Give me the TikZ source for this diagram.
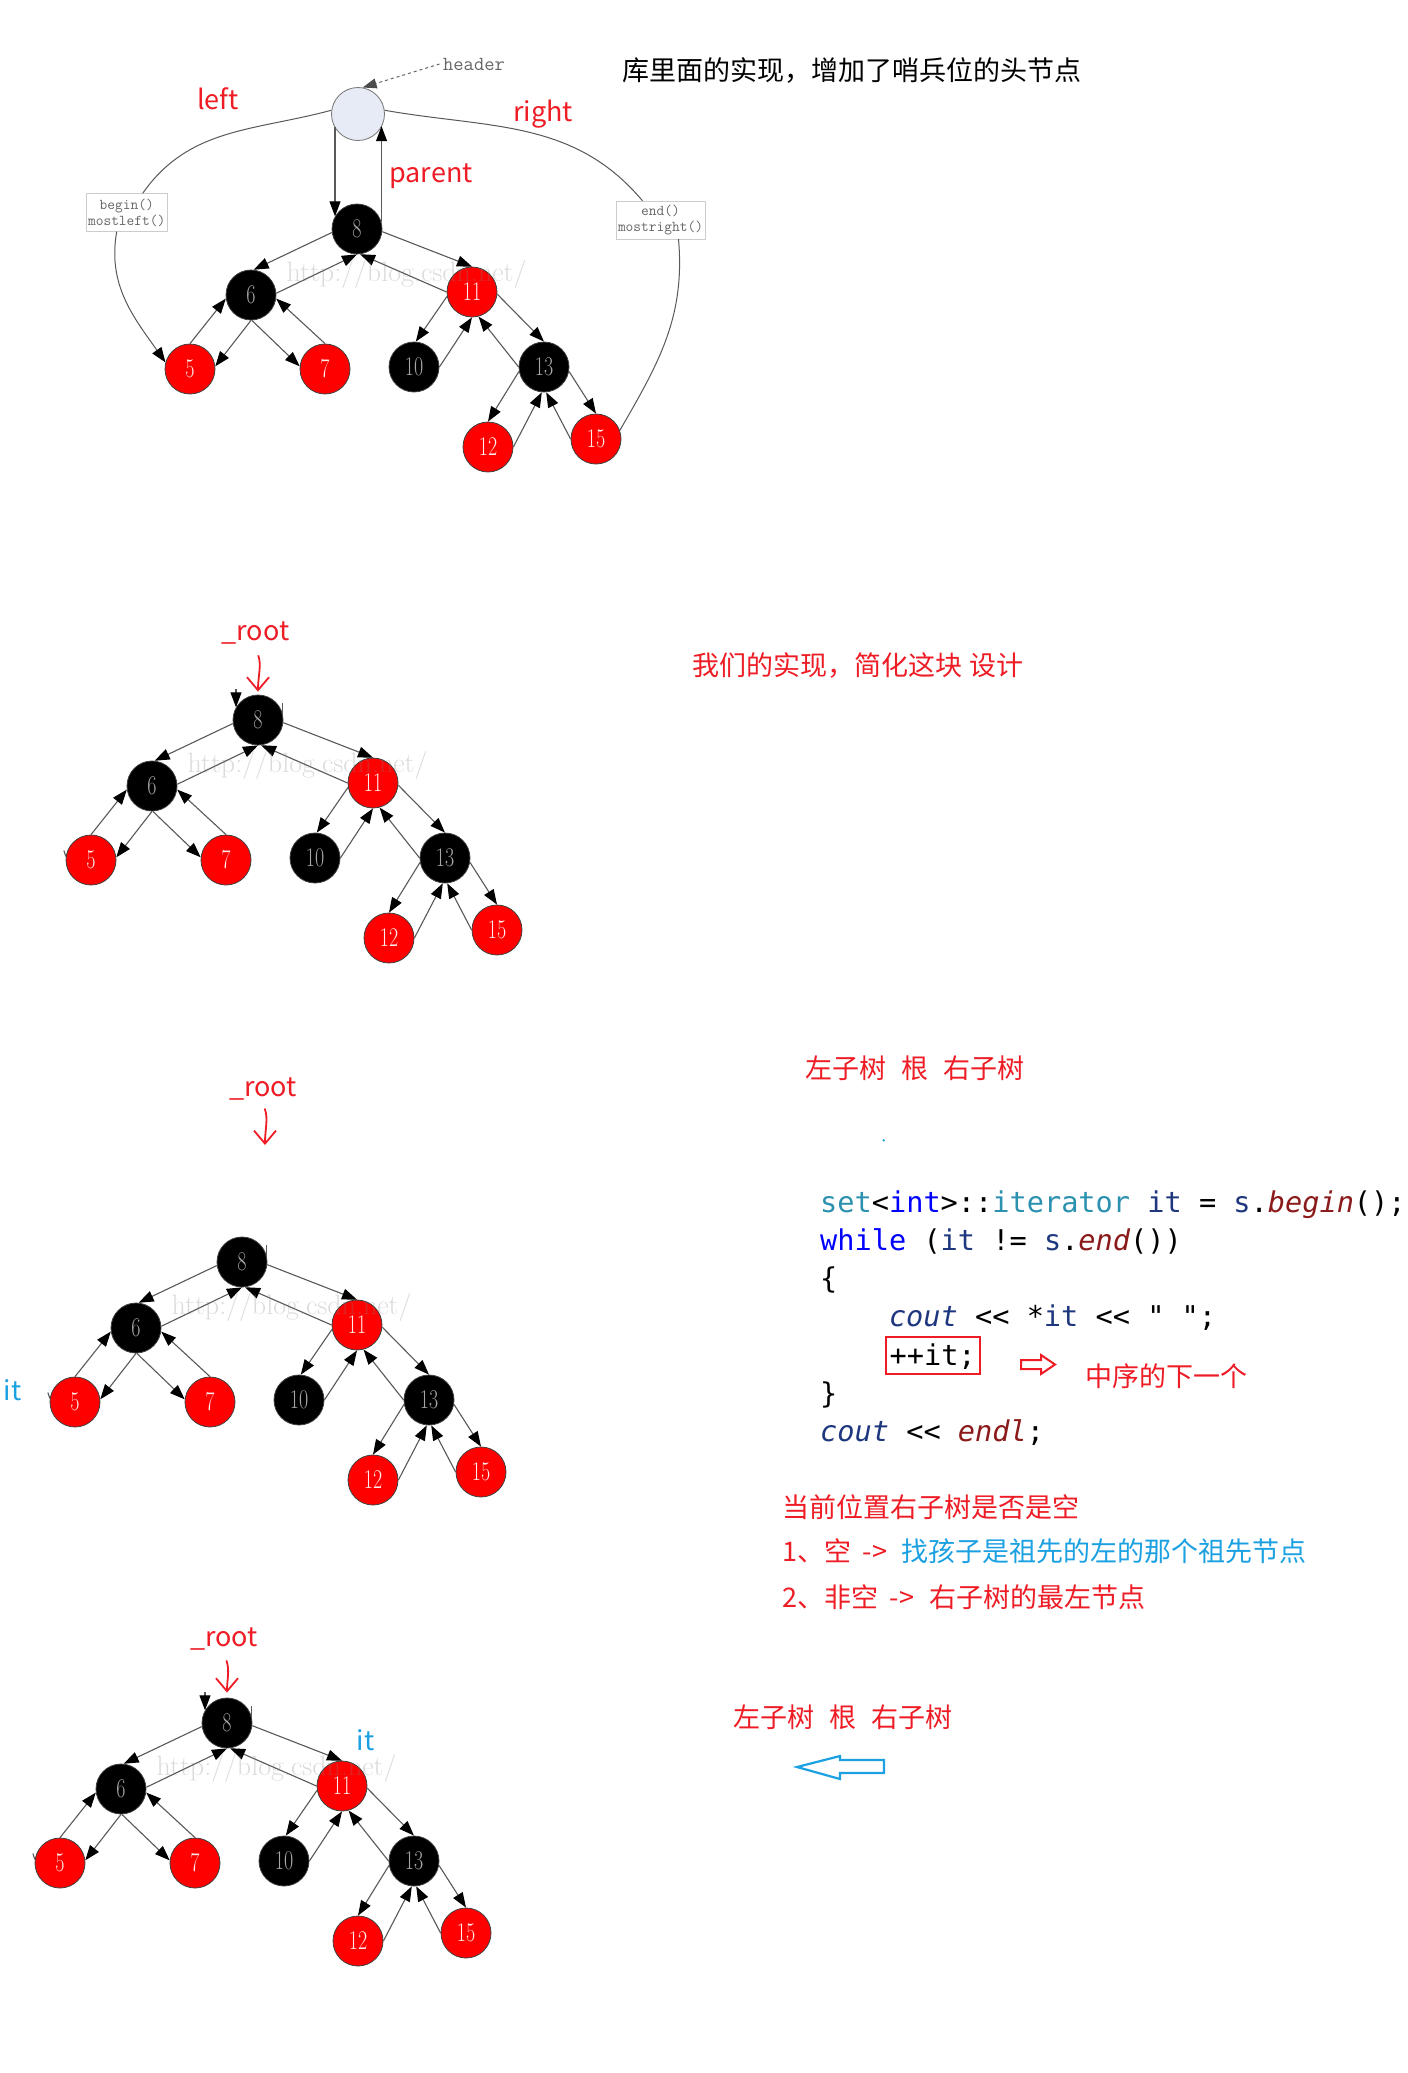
\documentclass[tikz,border=0pt]{standalone}
\usepackage{fontspec}
\newfontfamily\cjk{Noto Sans CJK SC}
\newfontfamily\codefont{DejaVu Sans Mono}[ItalicFont={DejaVu Sans Mono Oblique}]
\usetikzlibrary{arrows.meta,positioning,calc}

\definecolor{annred}{HTML}{EE1C25}
\definecolor{annblue}{HTML}{1BA1E2}
\definecolor{ctype}{HTML}{2B91AF}
\definecolor{ckw}{HTML}{0000FF}
\definecolor{cvar}{HTML}{1F377F}
\definecolor{cfun}{HTML}{8B1A1A}
\definecolor{hdrfill}{HTML}{E6EBF5}

\newcommand{\nlabel}[1]{\scalebox{0.74}[1]{#1}}
% one red-black tree, drawn at the origin of the current scope
\newcommand{\drawrbtree}{%
  \foreach \k/\x/\y in {8/0/0,6/-106/66,10/57/138,13/187/138}
    \node[bnode] (n\k) at (\x,\y) {\nlabel{\k}};
  \foreach \k/\x/\y in {11/115/63,5/-167/140,7/-32/140,12/131/218,15/239/210}
    \node[rnode] (n\k) at (\x,\y) {\nlabel{\k}};
  \foreach \a/\p/\b/\q in {8/188/6/84,6/4/8/270,8/354/11/90,11/180/8/277,
      6/270/5/6,5/90/6/188,6/272/7/174,7/90/6/352,
      11/190/10/86,10/0/11/270,11/355/13/90,13/180/11/285,
      13/190/12/90,12/0/13/265,13/350/15/90,15/180/13/275}
    \draw[edge] (n\a.\p) -- (n\b.\q);
  \node[wmark] (wm) at (49.5,45) {http://blog.csdn.net/};
}

\begin{document}
\begin{tikzpicture}[
    x=1pt, y=-1pt,
    bnode/.style={circle, draw=black!75, line width=0.8pt, fill=black, text=gray!70,
      minimum size=50pt, inner sep=0pt, font=\fontsize{27}{30}\selectfont},
    rnode/.style={bnode, fill=red, text=red!8},
    edge/.style={draw=black!65, line width=1.1pt, -{Triangle[length=15pt,width=11pt,color=black]}},
    curve/.style={draw=black!65, line width=1pt},
    stub/.style={draw=black!65, line width=1.1pt},
    hdrnode/.style={circle, draw=black!55, line width=0.8pt, fill=hdrfill, minimum size=53pt, inner sep=0pt},
    sbox/.style={draw=black!20, fill=white, align=center, inner sep=1pt,
      font=\ttfamily\fontsize{15}{16}\selectfont, text=black!60, minimum width=81pt, minimum height=38pt},
    wmark/.style={text=gray, opacity=0.28, font=\fontsize{28}{30}\selectfont},
    hint/.style={text=annred, font=\cjk\fontsize{27}{30}\selectfont},
    itlbl/.style={text=annblue, font=\cjk\fontsize{27}{30}\selectfont},
    hand/.style={draw=annred, line width=1.8pt, -{Straight Barb[length=13pt,width=22pt]}},
    code/.style={anchor=base west, inner sep=0pt, font=\codefont\fontsize{28.6}{34}\selectfont}
]
\fill[white] (0,0) rectangle (1408,2073);
\useasboundingbox (0,0) rectangle (1408,2073);

% library version, with header node
\begin{scope}[shift={(357,229)}, name prefix=ta-]
  \drawrbtree
\end{scope}
\node[hdrnode] (hdr) at (358,114) {};
\node[text=black!60, font=\ttfamily\fontsize{20}{22}\selectfont] (hdrlbl) at (474,64) {header};
\draw[dashed, draw=black!60, line width=1pt, -{Triangle[length=14pt,width=10pt,color=black!70]}] (hdrlbl.west) -- (hdr.80);
\draw[edge] (ta-n8.150 |- hdr.210) -- (ta-n8.150);
\draw[edge] (ta-n8.15) -- (ta-n8.15 |- hdr.-27);
\node[sbox] (bbox) at (126.7,212.5) {begin()\\mostleft()};
\node[sbox, minimum width=89pt] (ebox) at (660.5,220) {end()\\mostright()};
\draw[curve] (hdr.172) to[out=195,in=55] ($(bbox.north)+(16,0)$);
\draw[curve, -{Triangle[length=15pt,width=11pt,color=black]}] ($(bbox.south)+(-10,0)$) to[out=-100,in=125] (ta-n5.165);
\draw[curve] (hdr.8) to[out=-10,in=130] ($(ebox.north)+(-18,0)$);
\draw[curve] ($(ebox.south)+(18,0)$) to[out=-85,in=60] (ta-n15.20);
\node[hint] (lleft) at (218,99) {left};
\node[hint] (lright) at (543,114) {right};
\node[hint] (lparent) at (431,176) {parent};
\node[hint, text=black] (ttl) at (852,71) {库里面的实现，增加了哨兵位的头节点};

% our version
\begin{scope}[shift={(258,720)}, name prefix=tb-]
  \drawrbtree
  \draw[edge] ($(n8.150)+(0,-18)$) -- (n8.150);
  \draw[stub] (n8.12) -- +(0,-12);
  \draw[stub] (n5.172) -- +(-2,-6);
  \node[hint] (root) at (-2.5,-87) {\_root};
  \draw[hand, shorten <=8pt, shorten >=3pt] (root.south) to[out=-70,in=90] (n8.north);
\end{scope}
\node[hint] (ours) at (858,665) {我们的实现，简化这块 设计};

% iterator at begin()
\begin{scope}[shift={(242,1262)}, name prefix=tc-]
  \drawrbtree
  \draw[stub] (n8.12) -- +(0,-12);
  \draw[stub] (n5.172) -- +(-2,-6);
  \node[hint] (root) at (21,-173) {\_root};
  \coordinate (tip) at (23,-117);
  \draw[hand, shorten <=5pt] (root.south) to[out=-70,in=90] (tip);
\end{scope}
\node[itlbl] (it3) at (12.5,1390) {it};

% iterator after ++it
\begin{scope}[shift={(227,1723)}, name prefix=td-]
  \drawrbtree
  \draw[edge] ($(n8.150)+(0,-18)$) -- (n8.150);
  \draw[stub] (n8.12) -- +(0,-12);
  \draw[stub] (n5.172) -- +(-2,-6);
  \node[hint] (root) at (-3,-84) {\_root};
  \draw[hand, shorten <=7pt, shorten >=5pt] (root.south) to[out=-70,in=90] (n8.north);
\end{scope}
\node[itlbl] (it4) at (365.5,1740) {it};

% code and notes
\node[hint] (order1) at (915,1068) {左子树\hspace{15pt}根\hspace{15pt}右子树};
\fill[annblue] (883.7,1140.3) circle (1.3);
\node[code] (c1) at (820,1212) {\textcolor{ctype}{set}<\textcolor{ckw}{int}>::\textcolor{ctype}{iterator} \textcolor{cvar}{it} = \textcolor{cvar}{s}.\textcolor{cfun}{\itshape begin}();};
\node[code] (c2) at (820,1250.3) {\textcolor{ckw}{while} (\textcolor{cvar}{it} != \textcolor{cvar}{s}.\textcolor{cfun}{\itshape end}())};
\node[code] (c3) at (820,1288.6) {\{};
\node[code] (c4) at (888.8,1326.9) {\textcolor{cvar}{\itshape cout} << *\textcolor{cvar}{it} << "\ ";};
\node[code, draw=annred, line width=2.2pt, inner xsep=4pt, text height=24pt, text depth=5pt, inner ysep=4pt] (c5) at (884.5,1365.2) {++it;\hspace{15pt}};
\node[code] (c6) at (820,1403.5) {\}};
\node[code] (c7) at (820,1441.8) {\textcolor{cvar}{\itshape cout} << \textcolor{cfun}{\itshape endl};};
\draw[annred, line width=2pt] (1021,1360) -- (1041,1360) -- (1041,1355) -- (1055,1364.5)
  -- (1041,1374) -- (1041,1369) -- (1021,1369) -- cycle;
\node[hint] (nxt) at (1166,1376) {中序的下一个};
\node[hint, anchor=west, inner sep=0pt] (q0) at (782.6,1507) {当前位置右子树是否是空};
\node[hint, anchor=west, inner sep=0pt] (q1) at (782.6,1551) {1、空\hspace{5pt} ->\hspace{14pt}\textcolor{annblue}{找孩子是祖先的左的那个祖先节点}};
\node[hint, anchor=west, inner sep=0pt] (q2) at (782.6,1597) {2、非空\hspace{5pt} ->\hspace{9pt} 右子树的最左节点};
\node[hint] (order2) at (843,1717) {左子树\hspace{15pt}根\hspace{15pt}右子树};
\draw[annblue, line width=2.2pt] (797,1767) -- (840,1756) -- (840,1760) -- (884,1760)
  -- (884,1773) -- (840,1773) -- (840,1779) -- cycle;
\end{tikzpicture}
\end{document}
